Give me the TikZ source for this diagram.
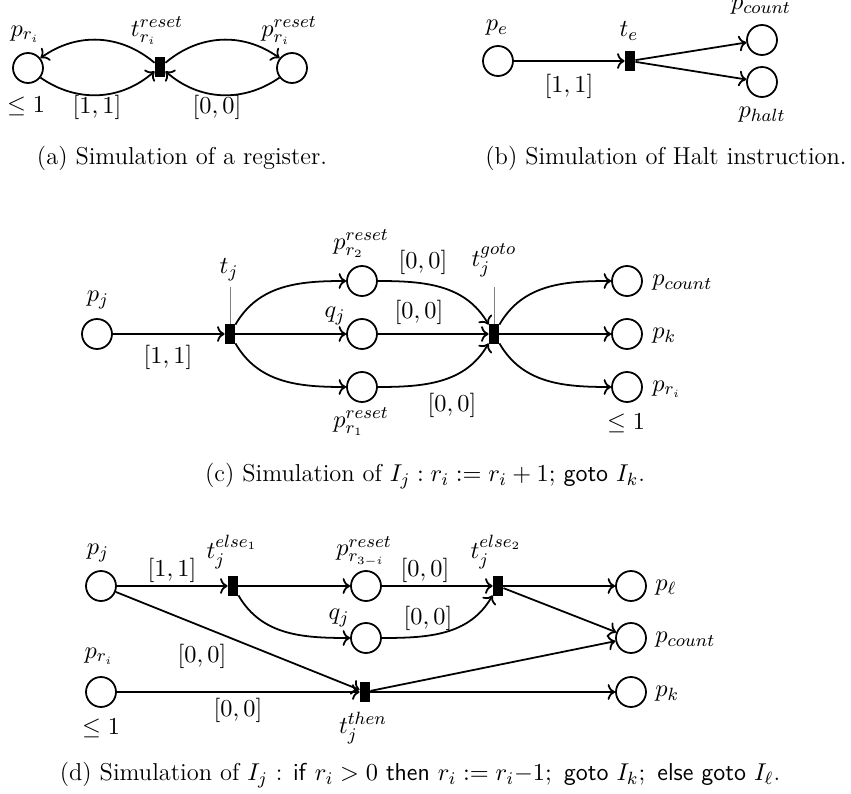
\documentclass[tikz,border=0pt]{standalone}
\usetikzlibrary{arrows.meta}
\begin{document}
\fontsize{11}{13}\selectfont
\begin{tikzpicture}[x=0.45pt,y=-0.45pt,
  place/.style={circle,draw,thick,minimum size=13.5pt,inner sep=0pt},
  trans/.style={rectangle,fill=black,draw=none,minimum width=4.5pt,minimum height=9pt,inner sep=0pt},
  arc/.style={thick,->},
  lbl/.style={inner sep=0pt},
  tickline/.style={black!50,line width=0.4pt}]
\useasboundingbox (0,0) rectangle (851,794);

% ---------------- (a)
\node[place] (a-pri) at (28,68) {};
\node[trans] (a-t) at (160,67) {};
\node[place] (a-pres) at (292,68) {};
\node[lbl] (a-lpri) at (25,34) {$p_{r_i}$};
\node[lbl] (a-lt) at (157,31) {$t^{reset}_{r_i}$};
\node[lbl] (a-lpres) at (289,31) {$p^{reset}_{r_i}$};
\node[lbl] (a-le) at (26,106) {$\leq 1$};
\node[lbl] (a-l11) at (97,107) {$[1,1]$};
\node[lbl] (a-l00) at (217,107) {$[0,0]$};
\draw[arc] (a-t) to[bend right=38] (a-pri);
\draw[arc] (a-pri) to[bend right=38] (a-t);
\draw[arc] (a-t) to[bend left=38] (a-pres);
\draw[arc] (a-pres) to[bend left=38] (a-t);
\node[lbl] (a-cap) at (182,158) {(a) Simulation of a register.};

% ---------------- (b)
\node[place] (b-pe) at (498,61) {};
\node[trans] (b-te) at (630,61) {};
\node[place] (b-pc) at (762,40) {};
\node[place] (b-ph) at (762,82) {};
\node[lbl] (b-lpe) at (497,28) {$p_e$};
\node[lbl] (b-lte) at (629,31) {$t_e$};
\node[lbl] (b-lpc) at (761,7) {$p_{count}$};
\node[lbl] (b-lph) at (762,115) {$p_{halt}$};
\node[lbl] (b-l11) at (569,86) {$[1,1]$};
\draw[arc] (b-pe) -- (b-te);
\draw[arc] (b-te) -- (b-pc);
\draw[arc] (b-te) -- (b-ph);
\node[lbl] (b-cap) at (666,158) {(b) Simulation of Halt instruction.};

% ---------------- (c)
\node[place] (c-pj) at (97,334) {};
\node[trans] (c-tj) at (230,334) {};
\node[place] (c-pr2) at (362,281) {};
\node[place] (c-qj) at (362,334) {};
\node[place] (c-pr1) at (362,387) {};
\node[trans] (c-tg) at (494,334) {};
\node[place] (c-pc) at (627,281) {};
\node[place] (c-pk) at (627,334) {};
\node[place] (c-pri) at (627,387) {};
\coordinate (c-tjtop) at (230,287);
\coordinate (c-tgtop) at (494,287);
\draw[tickline] (c-tj.north) -- (c-tjtop);
\draw[tickline] (c-tg.north) -- (c-tgtop);
\node[lbl] (c-lpj) at (98,300) {$p_j$};
\node[lbl] (c-ltj) at (229,270) {$t_j$};
\node[lbl] (c-lpr2) at (361,244) {$p^{reset}_{r_2}$};
\node[lbl] (c-lqj) at (335,316) {$q_j$};
\node[lbl] (c-lpr1) at (361,422) {$p^{reset}_{r_1}$};
\node[lbl] (c-ltg) at (494,260) {$t^{goto}_j$};
\node[lbl,anchor=west] (c-lpc) at (652,283) {$p_{count}$};
\node[lbl,anchor=west] (c-lpk) at (652,336) {$p_k$};
\node[lbl,anchor=west] (c-lpri) at (652,389) {$p_{r_i}$};
\node[lbl] (c-le) at (626,423) {$\leq 1$};
\node[lbl] (c-l11) at (168,357) {$[1,1]$};
\node[lbl] (c-l00a) at (423,262) {$[0,0]$};
\node[lbl] (c-l00b) at (419,312) {$[0,0]$};
\node[lbl] (c-l00c) at (452,405) {$[0,0]$};
\draw[arc] (c-pj) -- (c-tj);
\draw[arc] (c-tj) to[out=60,in=180] (c-pr2);
\draw[arc] (c-tj) -- (c-qj);
\draw[arc] (c-tj) to[out=-60,in=180] (c-pr1);
\draw[arc] (c-pr2) to[out=0,in=120] (c-tg);
\draw[arc] (c-qj) -- (c-tg);
\draw[arc] (c-pr1) to[out=0,in=-120] (c-tg);
\draw[arc] (c-tg) to[out=60,in=180] (c-pc);
\draw[arc] (c-tg) -- (c-pk);
\draw[arc] (c-tg) to[out=-60,in=180] (c-pri);
\node[lbl] (c-cap) at (425,476) {(c) Simulation of $I_j : r_i := r_i+1;$ \textsf{goto} $I_k$.};

% ---------------- (d)
\node[place] (d-pj) at (101,586) {};
\node[trans] (d-te1) at (233,586) {};
\node[place] (d-pr) at (366,586) {};
\node[place] (d-qj) at (366,638) {};
\node[trans] (d-te2) at (498,586) {};
\node[place] (d-pl) at (631,586) {};
\node[place] (d-pc) at (631,638) {};
\node[place] (d-pri) at (101,692) {};
\node[trans] (d-tt) at (365,692) {};
\node[place] (d-pk) at (631,692) {};
\node[lbl] (d-lpj) at (98,553) {$p_j$};
\node[lbl] (d-lte1) at (232,552) {$t^{else_1}_j$};
\node[lbl] (d-lpr) at (364,551) {$p^{reset}_{r_{3-i}}$};
\node[lbl] (d-lqj) at (339,618) {$q_j$};
\node[lbl] (d-lte2) at (496,552) {$t^{else_2}_j$};
\node[lbl,anchor=west] (d-lpl) at (655,588) {$p_\ell$};
\node[lbl,anchor=west] (d-lpc) at (655,640) {$p_{count}$};
\node[lbl,anchor=west] (d-lpk) at (655,694) {$p_k$};
\node[lbl] (d-lpri) at (99,656) {$p_{r_i}$};
\node[lbl] (d-le) at (101,728) {$\leq 1$};
\node[lbl] (d-ltt) at (363,728) {$t^{then}_j$};
\node[lbl] (d-l11) at (172,570) {$[1,1]$};
\node[lbl] (d-l00a) at (425,570) {$[0,0]$};
\node[lbl] (d-l00b) at (428,618) {$[0,0]$};
\node[lbl] (d-l00c) at (202,656) {$[0,0]$};
\node[lbl] (d-l00d) at (238,710) {$[0,0]$};
\draw[arc] (d-pj) -- (d-te1);
\draw[arc] (d-te1) -- (d-pr);
\draw[arc] (d-te1) to[out=-60,in=180] (d-qj);
\draw[arc] (d-pr) -- (d-te2);
\draw[arc] (d-qj) to[out=0,in=-120] (d-te2);
\draw[arc] (d-te2) -- (d-pl);
\draw[arc] (d-te2) -- (d-pc);
\draw[arc] (d-pj) -- (d-tt);
\draw[arc] (d-pri) -- (d-tt);
\draw[arc] (d-tt) -- (d-pc);
\draw[arc] (d-tt) -- (d-pk);
\node[lbl] (d-cap) at (420,775) {(d) Simulation of $I_j$ : \textsf{if} $r_i>0$ \textsf{then} $r_i := r_i{-}1;$\, \textsf{goto} $I_k;$\, \textsf{else goto} $I_\ell$.};
\end{tikzpicture}
\end{document}
